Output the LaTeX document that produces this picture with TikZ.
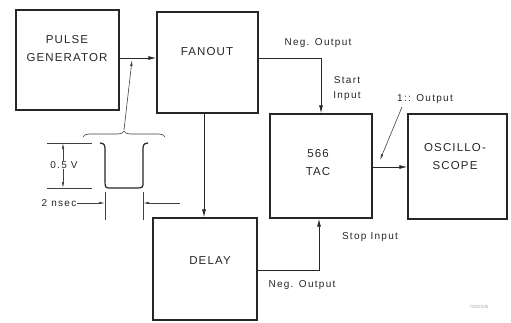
\documentclass[tikz,border=0pt]{standalone}
\usepackage{fontspec}
\setmainfont{Liberation Sans}
\newfontfamily\boxfont[LetterSpace=10]{Liberation Sans}
\newfontfamily\labfont[LetterSpace=13]{Liberation Sans}
\usetikzlibrary{arrows.meta,decorations.pathreplacing}
\begin{document}
\begin{tikzpicture}[x=1pt,y=-1pt,
  block/.style={draw=black!85,line width=1.3pt,inner sep=0pt},
  btext/.style={font=\boxfont\fontsize{11.5}{18}\selectfont,align=center,text=black!85,inner sep=0pt},
  lab/.style={font=\labfont\fontsize{10}{15}\selectfont,align=center,text=black!85,inner sep=0pt},
  conn/.style={draw=black!85,line width=0.9pt},
  arr/.style={conn,-{Latex[length=8pt,width=4pt]}},
  thin/.style={draw=black!75,line width=0.6pt},
  tarr/.style={thin,-{Latex[length=6pt,width=2.5pt]}}]
\useasboundingbox (0,0) rectangle (511,322);
% blocks
\node[block,minimum width=103pt,minimum height=100pt] (pg) at (67.5,60) {};
\node[block,minimum width=101pt,minimum height=101pt] (fan) at (207.5,62.5) {};
\node[block,minimum width=102pt,minimum height=104pt] (tac) at (321,166) {};
\node[block,minimum width=99pt,minimum height=105pt] (osc) at (457.5,166.5) {};
\node[block,minimum width=104pt,minimum height=102pt] (del) at (205,269) {};
% block texts
\node[btext] (pgt) at (67,49) {PULSE\\GENERATOR};
\node[btext] (fant) at (207,52) {FANOUT};
\node[btext] (tact) at (318,163) {566\\TAC};
\node[btext] (osct) at (455,157) {OSCILLO-\\SCOPE};
\node[btext] (delt) at (210,261) {DELAY};
% labels
\node[lab] (l1) at (318,43) {Neg. Output};
\node[lab] (l2) at (347,89) {Start\\Input};
\node[lab] (l3) at (425,99) {1:: Output};
\node[lab] (l4) at (370,237) {Stop Input};
\node[lab] (l5) at (302,285) {Neg. Output};
\node[font=\fontsize{4.5}{5}\selectfont,text=black!35] (l6) at (479,307) {7003/43b};
% connectors
\draw[arr] (pg.east |- 0,58) -- (fan.west |- 0,58);
\draw[arr] (fan.south -| 204,0) -- (del.north -| 204,0);
\draw[arr] (fan.east |- 0,58) -| (tac.north);
\draw[arr] (del.east |- 0,270) -| (tac.south -| 319,0);
\draw[arr] (tac.east |- 0,167) -- (osc.west |- 0,167);
\coordinate (o1) at (402,107);
\coordinate (o2) at (380,160);
\draw[tarr] (o1) -- (o2);
% pulse waveform
\coordinate (bt) at (124,130);
\coordinate (lp) at (132,60);
\draw[tarr] (bt) -- (lp);
\draw[thin,decorate,decoration={brace,amplitude=6pt}] (83,137) -- (165,137);
\draw[line width=1.2pt,black!85] (100,143) .. controls (105,143) and (105,146) .. (105,151) -- (105,182)
  .. controls (105,188) and (106,188) .. (111,188) -- (137,188)
  .. controls (143,188) and (143,187) .. (143,182) -- (143,151)
  .. controls (143,146) and (143,143) .. (148,143);
\draw[thin] (47,143) -- (92,143);
\draw[thin] (47,188) -- (92,188);
\node[lab] (v) at (64,165) {0.5 V};
\draw[tarr] (v.north -| 63,0) -- (63,143);
\draw[tarr] (v.south -| 63,0) -- (63,188);
\node[lab] (ns) at (59,203) {2 nsec};
\draw[thin] (105,192) -- (105,220);
\draw[thin] (143,192) -- (143,220);
\draw[tarr] (ns.east) -- (105,203);
\draw[tarr] (180,203) -- (143,203);
\end{tikzpicture}
\end{document}
